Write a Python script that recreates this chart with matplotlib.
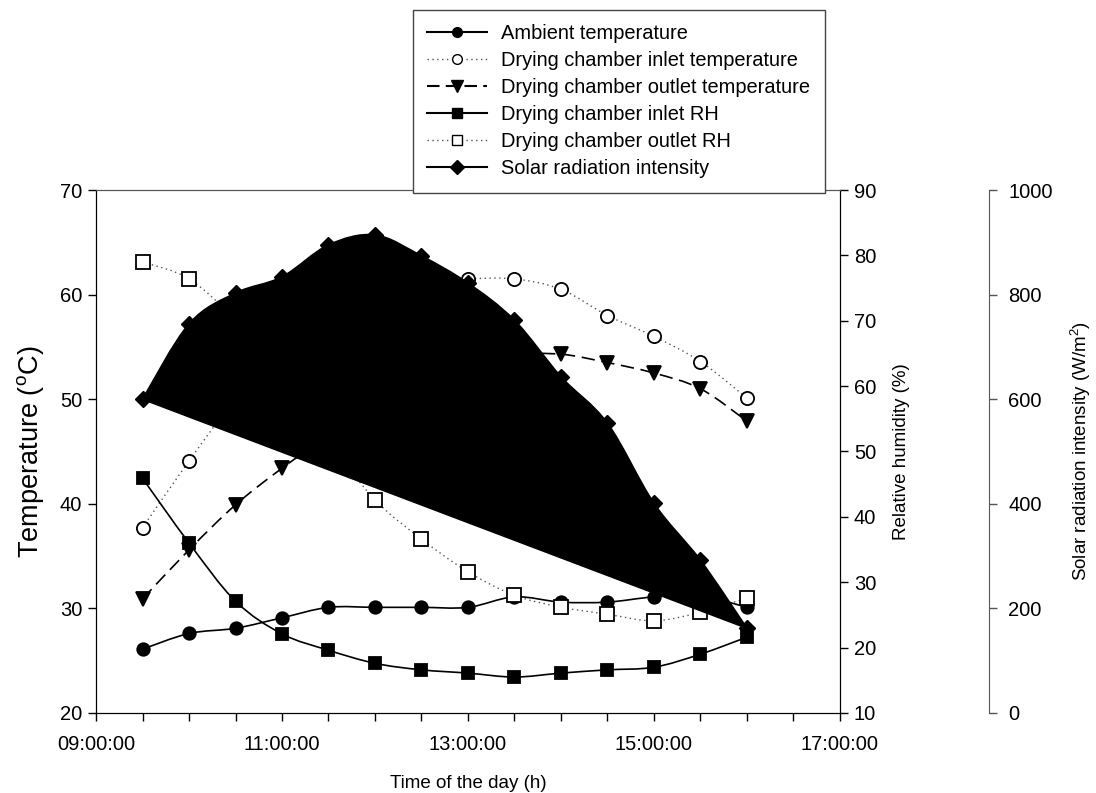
import numpy as np
import matplotlib
matplotlib.use('Agg')
import matplotlib.pyplot as plt
from matplotlib.path import Path
from matplotlib.patches import PathPatch
from matplotlib.lines import Line2D
from matplotlib.ticker import MultipleLocator, FixedLocator, FuncFormatter

plt.rcParams['font.family'] = ['Liberation Sans', 'DejaVu Sans']
plt.rcParams['mathtext.fontset'] = 'custom'
plt.rcParams['mathtext.rm'] = 'Liberation Sans'
plt.rcParams['mathtext.it'] = 'Liberation Sans'

# time of the day (every 30 min)
times = ['09:30', '10:00', '10:30', '11:00', '11:30', '12:00', '12:30',
         '13:00', '13:30', '14:00', '14:30', '15:00', '15:30', '16:00']

# temperatures (oC)
ambient_t = [26.1, 27.6, 28.1, 29.1, 30.1, 30.1, 30.1, 30.1, 31.1, 30.6, 30.6, 31.1, 31.2, 30.1]
inlet_t = [37.7, 44.1, 50.0, 54.5, 58.0, 60.2, 61.2, 61.5, 61.5, 60.5, 58.0, 56.0, 53.6, 50.1]
outlet_t = [30.9, 35.6, 39.9, 43.4, 46.5, 49.3, 51.5, 53.0, 54.2, 54.3, 53.5, 52.5, 51.0, 47.9]

# relative humidity (%)
inlet_rh = [45.9, 36.0, 27.1, 22.1, 19.6, 17.6, 16.6, 16.1, 15.5, 16.1, 16.6, 17.0, 19.0, 21.6]
outlet_rh = [79.0, 76.4, 70.0, 61.0, 51.5, 42.6, 36.6, 31.6, 28.0, 26.2, 25.1, 24.1, 25.4, 27.6]

# solar radiation intensity (W/m2)
solar = [600, 744, 803, 834, 895, 914, 874, 822, 751, 643, 554, 401, 292, 162]

hour_ticks = [9, 11, 13, 15, 17]

hours = [int(t[:2]) + int(t[3:]) / 60 for t in times]


def spline_path(x, y, closed=False):
    # smooth curve through the points (catmull-rom as cubic bezier)
    pts = np.column_stack([np.asarray(x, float), np.asarray(y, float)])
    n = len(pts)
    verts = [pts[0]]
    codes = [Path.MOVETO]
    for i in range(n - 1):
        p0 = pts[i - 1] if i > 0 else pts[i]
        p1 = pts[i]
        p2 = pts[i + 1]
        p3 = pts[i + 2] if i + 2 < n else pts[i + 1]
        verts += [p1 + (p2 - p0) / 6, p2 - (p3 - p1) / 6, p2]
        codes += [Path.CURVE4] * 3
    if closed:
        verts += [pts[0], pts[0]]
        codes += [Path.LINETO, Path.CLOSEPOLY]
    return Path(verts, codes)


def curve(ax, x, y, ls, marker, mfc, ms, z=2, lw=1.2, color='black'):
    ax.add_patch(PathPatch(spline_path(x, y), fill=False, edgecolor=color,
                           linestyle=ls, linewidth=lw, zorder=z))
    ax.plot(x, y, ls='none', marker=marker, ms=ms, mfc=mfc, mec='black',
            mew=1.3, zorder=z + 1)


fig = plt.figure(figsize=(10.96, 7.93), dpi=100)
ax = fig.add_axes([0.0876, 0.1009, 0.6788, 0.6595])
ax2 = ax.twinx()
ax3 = ax.twinx()

dotted = (0, (1, 2.5))
dashed = (0, (8, 4))

curve(ax, hours, ambient_t, '-', 'o', 'black', 9)
curve(ax, hours, inlet_t, dotted, 'o', 'white', 9.5, lw=1.0, color='#555555')
curve(ax, hours, outlet_t, dashed, 'v', 'black', 10)

curve(ax2, hours, inlet_rh, '-', 's', 'black', 9)
curve(ax2, hours, outlet_rh, dotted, 's', 'white', 9.5, lw=1.0, color='#555555')

ax3.add_patch(PathPatch(spline_path(hours, solar, closed=True), facecolor='black',
                        edgecolor='black', linewidth=1.2, zorder=2))
ax3.plot(hours, solar, ls='none', marker='D', ms=8.5, mfc='black', mec='black', zorder=3)

ax.set_xlim(9, 17)
ax.set_ylim(20, 70)
ax2.set_ylim(10, 90)
ax3.set_ylim(0, 1000)

ax.xaxis.set_major_locator(FixedLocator(hour_ticks))
ax.xaxis.set_minor_locator(MultipleLocator(0.5))
ax.xaxis.set_major_formatter(FuncFormatter(lambda v, p: '%02d:00:00' % int(round(v))))
ax.yaxis.set_major_locator(MultipleLocator(10))
ax2.yaxis.set_major_locator(MultipleLocator(10))
ax3.yaxis.set_major_locator(MultipleLocator(200))

for a in (ax, ax2, ax3):
    a.tick_params(axis='both', which='both', direction='out', length=6, width=1,
                  labelsize=14.5, pad=4)
ax.tick_params(axis='x', which='both', pad=10)
ax3.tick_params(axis='y', pad=8)

ax3.spines['right'].set_position(('axes', 1.2))
for s in ('left', 'top', 'bottom'):
    ax3.spines[s].set_visible(False)
ax3.spines['right'].set_color('#555555')
ax3.tick_params(axis='y', colors='#555555', labelcolor='black')
ax2.spines['top'].set_color('#555555')
ax.spines['top'].set_color('#555555')

ax.set_xlabel('Time of the day (h)', fontsize=13.5, labelpad=15)
ax.set_ylabel('Temperature ($^{o}$C)', fontsize=19.5, labelpad=10)
ax2.set_ylabel('Relative humidity (%)', fontsize=13.5, labelpad=12)
ax3.set_ylabel('Solar radiation intensity (W/m$^{2}$)', fontsize=13.5, labelpad=12)

handles = [
    Line2D([], [], color='black', ls='-', marker='o', ms=7, mfc='black', mec='black'),
    Line2D([], [], color='#555555', ls=dotted, lw=1.0, marker='o', ms=7, mfc='white', mec='black'),
    Line2D([], [], color='black', ls=(0, (6, 3)), marker='v', ms=8, mfc='black', mec='black'),
    Line2D([], [], color='black', ls='-', marker='s', ms=7, mfc='black', mec='black'),
    Line2D([], [], color='#555555', ls=dotted, lw=1.0, marker='s', ms=7, mfc='white', mec='black'),
    Line2D([], [], color='black', ls='-', marker='D', ms=7, mfc='black', mec='black'),
]
labels = ['Ambient temperature', 'Drying chamber inlet temperature',
          'Drying chamber outlet temperature', 'Drying chamber inlet RH',
          'Drying chamber outlet RH', 'Solar radiation intensity']
leg = fig.legend(handles, labels, loc='upper left', bbox_to_anchor=(413 / 1096, 1 - 10 / 793),
                 fontsize=14.4, frameon=True, fancybox=False, framealpha=1,
                 edgecolor='#444444', handlelength=3.0, handletextpad=0.7,
                 labelspacing=0.4, borderpad=0.72, borderaxespad=0)
leg.get_frame().set_linewidth(1.0)

fig.savefig('out.png', dpi=100)
